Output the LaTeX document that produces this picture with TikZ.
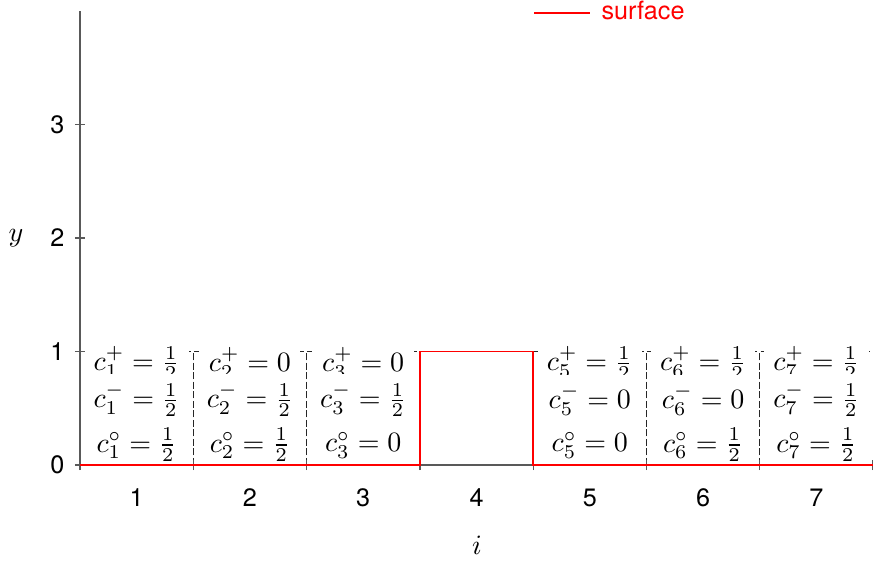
\documentclass[tikz,border=0pt]{standalone}
\usepackage{fontspec}
\setsansfont{TeX Gyre Heros}
\begin{document}
\begin{tikzpicture}[x=40.464pt,y=40.536pt,
  cellbox/.style={draw=black!85, dash pattern=on 1.8pt off 1.6pt, line width=0.35pt},
  val/.style={fill=white, inner sep=0.333em},
  axisline/.style={draw=black!65, line width=0.45pt},
  surf/.style={draw=red, line width=0.7pt},
  ticklab/.style={font=\sffamily\fontsize{9}{11}\selectfont, inner sep=0pt},
  leglab/.style={font=\sffamily\fontsize{9}{11}\selectfont, text=red, inner sep=0pt, anchor=mid west}]
\useasboundingbox (-8.339pt,-35pt) rectangle (303.446pt,166.07pt);

% cells
\foreach \i in {1,...,7} \draw[cellbox] (\i-0.5,0) rectangle (\i+0.5,1);

% cell values
\foreach \i/\vp/\vm/\vo in {1/{\frac{1}{2}}/{\frac{1}{2}}/{\frac{1}{2}},
                          2/{0}/{\frac{1}{2}}/{\frac{1}{2}},
                          3/{0}/{\frac{1}{2}}/{0},
                          5/{\frac{1}{2}}/{0}/{0},
                          6/{\frac{1}{2}}/{0}/{\frac{1}{2}},
                          7/{\frac{1}{2}}/{\frac{1}{2}}/{\frac{1}{2}}} {
  \node[val] (p\i) at (\i,0.899) {$c_{\i}^{+}=\vp$};
  \node[val] (m\i) at (\i,0.573) {$c_{\i}^{-}=\vm$};
  \node[val] (z\i) at (\i,0.176) {$c_{\i}^{\circ}=\vo$};
}

% axes
\coordinate (org) at (0.5,0);
\coordinate (xe) at (7.5,0);
\coordinate (ye) at (0.5,4);
\draw[axisline] (org) -- (xe);
\draw[axisline] (org) -- (ye);
\foreach \k in {0,...,3} {
  \draw[axisline] ([xshift=-1.8pt]0.5,\k) -- ([xshift=1.8pt]0.5,\k);
  \node[ticklab, anchor=east] (yl\k) at ([xshift=-5.36pt]0.5,\k) {\k};
}
\foreach \k in {0.5,1.5,...,7.5}
  \draw[axisline] ([yshift=-1.8pt]\k,0) -- ([yshift=1.8pt]\k,0);
\foreach \k in {1,...,7}
  \node[ticklab] (xl\k) at ([yshift=-11.61pt]\k,0) {\k};

\node (ylab) at (-2.625pt,81.07pt) {$y$};
\node (ilab) at (162.02pt,-28.57pt) {$i$};

% surface
\coordinate (s0) at (0.5,0);
\coordinate (s1) at (3.5,0);
\coordinate (s2) at (3.5,1);
\coordinate (s3) at (4.5,1);
\coordinate (s4) at (4.5,0);
\coordinate (s5) at (7.5,0);
\draw[surf] (s0) -- (s1) -- (s2) -- (s3) -- (s4) -- (s5);
\draw[surf] (s2) -- (s3);

% legend
\coordinate (la) at (182.38pt,161.43pt);
\coordinate (lb) at (202.38pt,161.43pt);
\draw[surf] (la) -- (lb);
\node[leglab] (legt) at (206.3pt,161.43pt) {surface};
\end{tikzpicture}
\end{document}
